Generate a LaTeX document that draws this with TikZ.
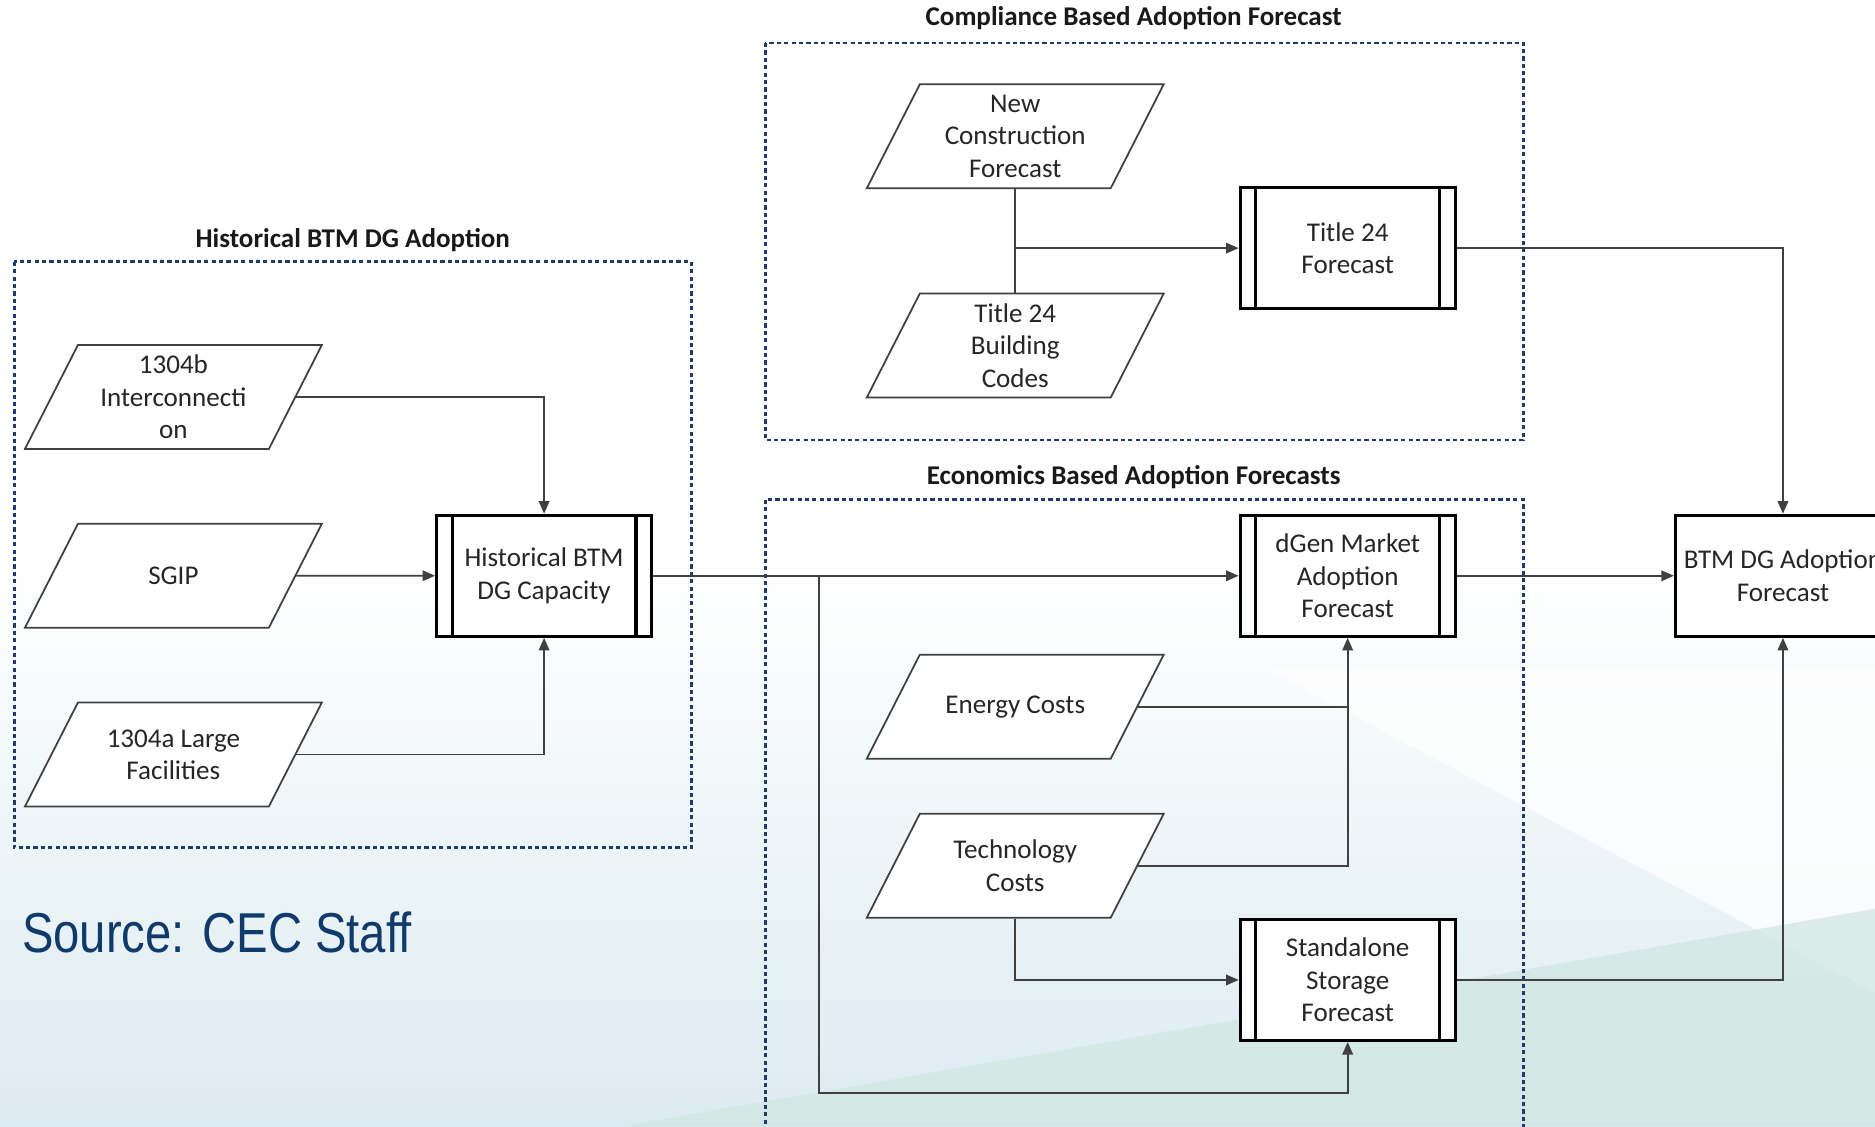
\documentclass[tikz,border=0pt]{standalone}
\usepackage{fontspec}
\setmainfont{Carlito}
\newfontfamily\srcfont[FakeStretch=0.84]{Liberation Sans}
\usetikzlibrary{arrows.meta,shapes.geometric}

\definecolor{framenavy}{HTML}{1F3A73}
\definecolor{srcblue}{HTML}{0F3A6B}
\definecolor{bgblue}{HTML}{DCEBF1}
\definecolor{bgteal}{HTML}{CFE6E0}
\newcommand{\boxfont}{\fontsize{7.7}{9.2}\selectfont}
\newcommand{\incell}[1]{\parbox[c][0.9cm][c]{1.91cm}{\centering #1}}

\begin{document}
\begin{tikzpicture}[
  x=0.01196cm, y=-0.01196cm,
  >={Triangle[length=1.25mm,width=1.05mm]},
  group/.style={draw=framenavy, line width=0.8pt, dash pattern=on 1.2pt off 0.9pt},
  grouptitle/.style={font=\boxfont\bfseries, text=black!90},
  datain/.style={
    trapezium,
    trapezium left angle=63,
    trapezium right angle=117,
    inner xsep=0pt,
    inner ysep=0.07cm,
    draw=black!75,
    line width=0.5pt,
    fill=white,
    font=\boxfont,
    text=black!85
  },
  process/.style={
    draw=black,
    line width=0.9pt,
    fill=white,
    minimum width=2.15cm,
    minimum height=1.21cm,
    inner sep=0pt,
    align=center,
    font=\boxfont,
    text=black!85,
    path picture={
      \draw[line width=0.9pt] ([xshift=1.55mm]path picture bounding box.north west) -- ([xshift=1.55mm]path picture bounding box.south west);
      \draw[line width=0.9pt] ([xshift=-1.55mm]path picture bounding box.north east) -- ([xshift=-1.55mm]path picture bounding box.south east);
    }
  },
  flow/.style={draw=black!75, line width=0.5pt}
]
  \useasboundingbox (0,0) rectangle (1568,942);
  \clip (0,0) rectangle (1568,942);

  % background
  \shade[top color=white, bottom color=bgblue, middle color=white] (0,0) rectangle (1568,942);
  \fill[white, opacity=0.75] (1060,560) -- (1568,560) -- (1568,830) -- cycle;
  \fill[bgteal, opacity=0.7] (520,942) -- (1568,760) -- (1568,942) -- cycle;

  % groups
  \draw[group] (12,219) rectangle (578,709);
  \draw[group] (640,36) rectangle (1274,368);
  \draw[group] (640,418) rectangle (1274,990);
  \node[grouptitle] (histtitle) at (295,201) {Historical BTM DG Adoption};
  \node[grouptitle] (comptitle) at (948,15) {Compliance Based Adoption Forecast};
  \node[grouptitle] (econtitle) at (948,399) {Economics Based Adoption Forecasts};

  % historical inputs
  \node[datain] (inter) at (145,332) {\incell{1304b\\Interconnecti\\on}};
  \node[datain] (sgip) at (145,481.5) {\incell{SGIP}};
  \node[datain] (large) at (145,631) {\incell{1304a Large\\Facilities}};
  \node[process] (hist) at (455,481.5) {Historical BTM\\DG Capacity};

  % compliance
  \node[datain] (newc) at (849,114) {\incell{New\\Construction\\Forecast}};
  \node[datain] (t24b) at (849,289) {\incell{Title 24\\Building\\Codes}};
  \node[process] (t24f) at (1127,207.5) {Title 24\\Forecast};

  % economics
  \node[process] (dgen) at (1127,481.5) {dGen Market\\Adoption\\Forecast};
  \node[datain] (energy) at (849,591) {\incell{Energy Costs}};
  \node[datain] (tech) at (849,724) {\incell{Technology\\Costs}};
  \node[process] (store) at (1127,819.5) {Standalone\\Storage\\Forecast};

  % result
  \node[draw=black, line width=0.9pt, fill=white, minimum width=2.15cm, minimum height=1.21cm,
        inner sep=0pt, align=center, font=\boxfont, text=black!85] (btm) at (1491,481.5) {BTM DG Adoption\\Forecast};

  \node[anchor=west, inner sep=0pt, font=\srcfont\fontsize{16}{18}\selectfont, text=srcblue]
    (source) at (18,780) {Source: CEC Staff};

  % connectors
  \draw[flow,->] (inter.east) -| (hist.north);
  \draw[flow,->] (sgip.east) -- (hist.west);
  \draw[flow,->] (large.east) -| (hist.south);
  \draw[flow,->] (hist.east) -- (dgen.west);
  \coordinate (split) at (685,0 |- hist.east);
  \coordinate (loopdown) at (685,914);
  \draw[flow,->] (split) -- (loopdown) -| (store.south);

  \draw[flow] (newc.south) -- (t24b.north);
  \draw[flow,->] (newc.south |- t24f.west) -- (t24f.west);
  \draw[flow,->] (t24f.east) -| (btm.north);

  \draw[flow,->] (dgen.east) -- (btm.west);
  \draw[flow,->] (energy.east) -| (dgen.south);
  \draw[flow] (tech.east) -| (energy.east -| dgen.south);
  \draw[flow,->] (tech.south) |- (store.west);
  \draw[flow,->] (store.east) -| (btm.south);
\end{tikzpicture}
\end{document}
